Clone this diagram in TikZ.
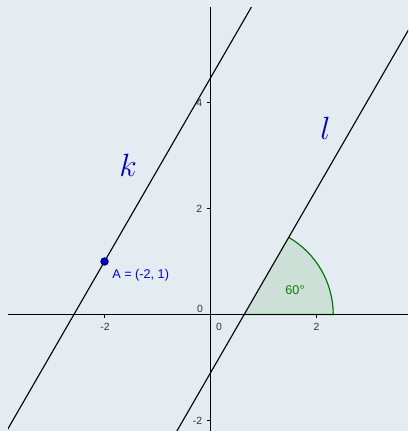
\documentclass[tikz,border=0pt]{standalone}
\usepackage{fontspec}
\setsansfont{Liberation Sans}
\usetikzlibrary{calc}
\definecolor{paneblue}{RGB}{228,236,242}
\definecolor{anglefill}{RGB}{205,224,215}
\definecolor{anglegreen}{RGB}{0,110,0}
\definecolor{labelblue}{RGB}{0,0,235}

\begin{document}
\begin{tikzpicture}[font=\sffamily, ticklab/.style={font=\sffamily\fontsize{5.6}{6}\selectfont, text=black!80, inner sep=0pt}]
\fill[paneblue] (-3.972,-2.198) rectangle (3.726,5.934); \useasboundingbox (-3.972,-2.198) rectangle (3.726,5.934);
\coordinate (O) at (0,0); \coordinate (A) at (-2,1); \coordinate (V) at (0.635,0);
\begin{scope}
\clip (-3.82,-2.198) rectangle (3.726,5.80);
\fill[anglefill] (V) -- ++(1.68,0) arc (0:60:1.68) -- cycle; \draw[anglegreen, line width=0.6pt] (V) -- ++(1.68,0) arc (0:60:1.68);
\draw[line width=1pt] (-3.82,0)--(3.726,0); \draw[line width=1pt] (0,-2.198)--(0,5.80);
\foreach \t in {-2,2} \draw[line width=0.6pt] (\t,0)--(\t,-0.07); \foreach \t in {-2,2,4} \draw[line width=0.6pt] (0,\t)--(-0.07,\t);
\draw[line width=0.6pt] ($(A)+(-4,-6.928)$)--($(A)+(4,6.928)$); \draw[line width=0.6pt] ($(V)+(-4,-6.928)$)--($(V)+(4,6.928)$);
\end{scope}
\node[ticklab] (xm2) at (-1.99,-0.23) {-2}; \node[ticklab] (x0) at (0.16,-0.23) {0}; \node[ticklab] (x2) at (2.0,-0.23) {2};
\node[ticklab, anchor=east] (y4) at (-0.15,3.99) {4}; \node[ticklab, anchor=east] (y2) at (-0.15,1.99) {2}; \node[ticklab] (y0) at (-0.2,0.1) {0}; \node[ticklab, anchor=east] (ym2) at (-0.15,-2.01) {-2};
\fill[labelblue, draw=black!70!blue, line width=0.5pt] (A) circle (0.07); \node[anchor=base west, text=labelblue, inner sep=0pt, font=\sffamily\fontsize{6.8}{8}\selectfont] (Alab) at (-1.86,0.683) {A = (-2, 1)};
\node[text=anglegreen!90!lime, font=\sffamily\fontsize{6.8}{8}\selectfont] (ang) at (1.594,0.462) {60°};
\node[text=labelblue!85!black, font=\fontsize{18}{20}\selectfont] (klab) at (-1.557,2.82) {$k$}; \node[text=labelblue!85!black, font=\fontsize{18}{20}\selectfont] (llab) at (2.17,3.51) {$l$};
\end{tikzpicture}
\end{document}
